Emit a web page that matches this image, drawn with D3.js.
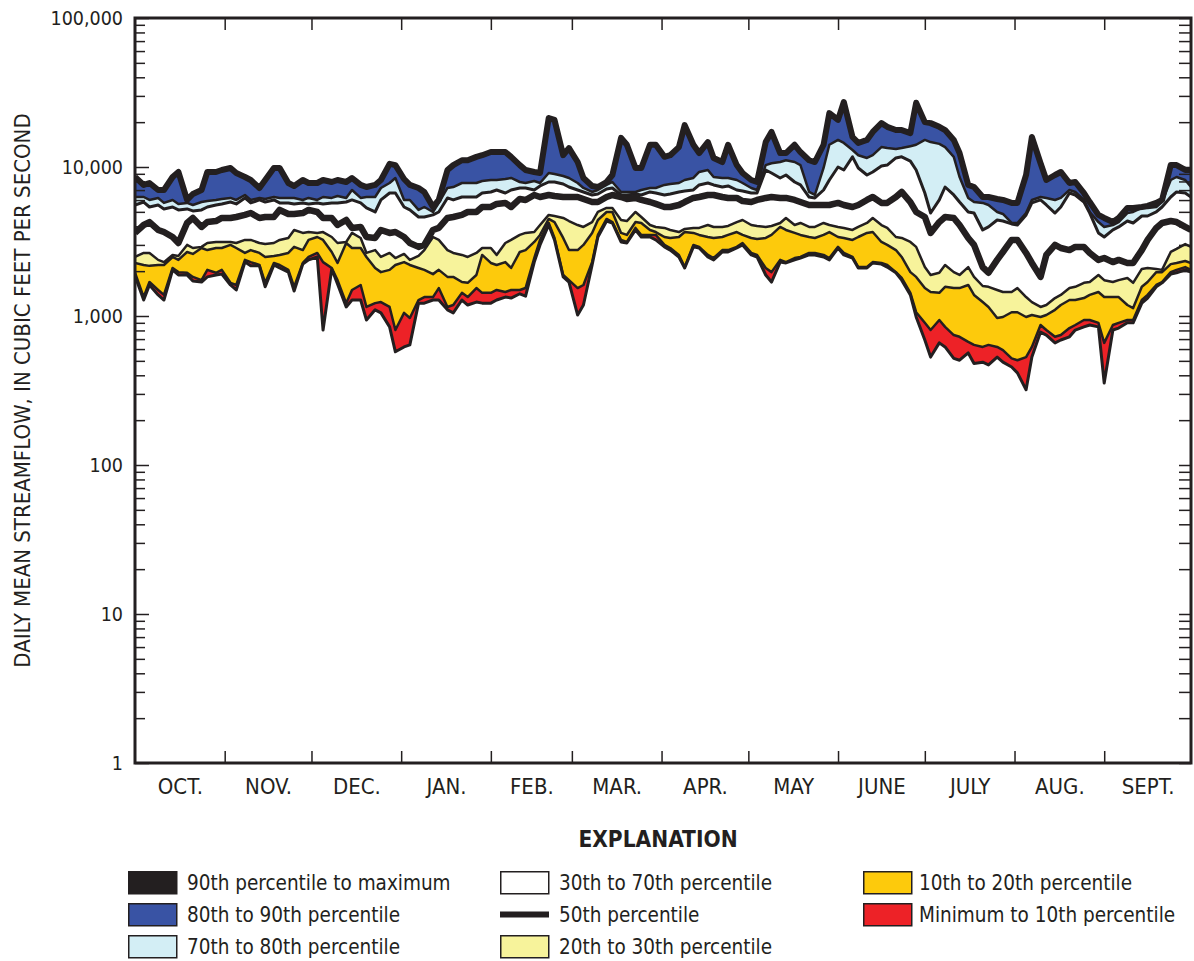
<!DOCTYPE html>
<html>
<head>
<meta charset="utf-8">
<script src="https://cdn.jsdelivr.net/npm/d3@7"></script>
<style>
    body { margin: 0; background: #fff; }
    svg text {
        font-family: "Liberation Sans Narrow", "DejaVu Sans Condensed", "Roboto Condensed", sans-serif;
        fill: #231f20;
    }
    .tick line { stroke: #231f20; stroke-width: 1.5; }
    .y-label text { font-size: 19.5px; }
    .month-label text { font-size: 22px; }
    .legend-text { font-size: 20.5px; }
</style>
</head>
<body>
<div id="chart"></div>
<script>
'use strict';

// day of the water year (0 = Oct. 1)
const days = [0,3,5,8,10,13,15,18,20,23,25,28,30,33,35,38,40,43,45,48,50,53,55,58,60,63,65,68,70,73,75,78,80,83,85,88,90,93,95,98,100,103,105,108,110,113,115,118,120,123,125,128,130,133,135,138,140,143,145,148,150,153,155,158,160,163,165,168,170,173,175,178,180,183,185,188,190,193,195,198,200,203,205,208,210,213,215,218,220,223,225,228,230,233,235,238,240,243,245,248,250,253,255,258,260,263,265,268,270,273,275,278,280,283,285,288,290,293,295,298,300,303,305,308,310,313,315,318,320,323,325,328,330,333,335,338,340,343,345,348,350,353,355,358,360,363,365];

// daily mean streamflow percentiles, cubic feet per second
const p90 = [8570,7580,7810,7010,7010,8570,9260,6010,6590,7010,9260,9260,9550,9850,9110,8570,8180,7230,8180,9850,9850,7810,7460,8180,7810,7810,8180,7930,8180,7930,8440,7580,7340,7580,8180,10500,10300,8310,7580,7230,6800,5390,6010,9550,10300,11100,11100,11700,12000,12600,12600,12600,11700,10300,9550,9260,9110,21300,20700,12000,13400,10800,8440,7460,7340,7930,8840,15700,14100,9850,9850,14100,14100,11700,12000,13600,19100,14100,12400,14700,11500,10800,14100,10300,9110,8180,7930,14700,17200,12400,12400,14100,12600,11100,10800,14100,23000,20700,27300,15900,14500,15200,17200,19700,18600,17700,17700,16900,27000,20000,19700,18600,17700,15200,12400,7580,7340,6290,6290,6100,6010,5740,5740,8840,15900,10600,8180,8840,9260,7810,7930,6690,5820,4770,4550,4270,4550,5310,5310,5390,5480,5740,6010,10300,10300,9550,9550];
const p80 = [6290,6290,6010,6200,5740,6010,5650,5740,5560,5820,5910,6010,6100,6200,6010,6490,6010,6200,6100,6290,6200,6200,6200,6010,6200,6010,6290,6200,6390,6200,7010,6200,6290,6290,7230,7810,8440,6010,6010,5150,5390,4990,5740,7230,7340,7810,7810,7810,8050,8180,8180,8310,8440,7930,7810,8050,7810,9110,8980,8700,8440,7810,7230,6800,7010,7580,7930,6800,6800,6800,7010,7230,7230,7580,7690,7810,8180,8440,9260,9550,8570,8440,8440,8180,7810,7230,7010,10300,10600,10800,11100,10800,10300,6800,6490,9850,14100,15200,14500,13000,12000,11500,12000,13600,13400,13200,13400,13800,14100,15200,14700,14300,13600,11700,8570,6200,5820,5740,5560,4990,4840,4210,4210,4910,6010,6290,6200,6010,6200,7010,6800,6010,4990,4270,3960,4080,4270,4910,4990,5310,5310,5390,5820,8180,8570,8180,7340];
const p70 = [5560,5820,5390,5560,5230,5390,5150,5230,5070,5150,5390,5560,5650,5820,5650,6200,5740,6010,5820,6010,5740,5740,5650,5740,5650,5740,5650,5740,5740,5820,6010,5740,5310,4990,6010,6690,6690,5390,5150,4620,4620,4770,4990,6200,6010,6290,6290,6290,6690,6800,7010,6690,7010,7230,7230,7010,7460,7930,7930,7690,7340,7010,6800,6490,6590,7120,7230,6490,6490,6590,6490,6800,6690,6490,6590,6800,6900,7010,7580,7810,7580,7340,7460,7010,6900,6690,6690,9550,9110,8440,8840,7930,7580,6290,6200,7010,8180,10000,9550,11700,9850,8840,9260,10150,10300,11500,11700,10950,9550,6690,4910,6010,7340,6490,5820,4990,4910,3780,3960,4410,4340,4150,4080,4770,5740,6010,5560,4910,5390,6690,6490,5820,4910,3610,3390,3780,3960,4340,4210,4690,4690,4990,5390,6290,6800,6690,6290];
const p50 = [3610,4080,4270,3780,3660,3390,3090,4210,4550,3960,4270,4340,4550,4550,4620,4770,4910,4550,4620,4620,5150,4840,4840,4910,5150,4990,4550,4550,4080,4410,3900,3960,3390,3340,3780,3610,3660,3390,3090,2910,3000,3780,3900,4550,4620,4770,4990,4990,5390,5390,5650,5740,5390,6100,6010,6490,6290,6490,6390,6290,6290,6290,6100,5820,5820,6290,6490,6290,6100,6200,6010,5820,5650,5390,5390,5560,5820,6200,6290,6490,6490,6290,6200,6200,5910,5820,6010,6200,6290,6200,6200,6010,5820,5560,5560,5560,5560,5740,5560,5390,5560,6010,6290,5740,5740,6290,6800,5820,4990,4620,3610,4270,4620,4550,4080,3340,3000,2130,1950,2380,2690,3240,3240,2650,2270,1830,2570,3000,2860,2770,2910,2910,2650,2380,2450,2300,2380,2270,2270,2770,3240,3900,4210,4340,4270,3960,3780];
const p30 = [2490,2650,2650,2380,2300,2570,2530,3000,2860,2910,3090,3140,3140,3140,3090,3240,3240,3090,3040,3090,3240,3340,3780,3610,3660,3610,3660,3390,3090,3140,3610,3340,2650,2770,2490,2650,2450,2610,2380,2530,2770,3390,3240,2770,2650,2570,2490,2650,2860,2860,2570,3090,3240,3500,3610,3660,4080,4770,4690,4550,4340,4080,3960,4270,4990,5310,5310,4410,4340,4990,4620,4080,3960,3900,3780,3660,3840,3900,3900,4080,3960,3960,4020,4270,4410,4080,4020,3960,4020,4210,4550,4080,4210,3960,3960,4210,4080,3960,3900,3780,3960,4210,4550,4080,3900,3390,3340,3140,2910,2130,1885,1950,2200,1970,1885,2130,1830,1590,1570,1495,1450,1450,1540,1340,1240,1150,1185,1320,1385,1540,1570,1670,1690,1885,1740,1690,1740,1800,1670,2070,2100,2070,2040,2690,2820,3040,2910];
const p20 = [2270,2200,2170,2200,2200,2490,2380,2690,2610,2860,2770,2860,2860,3000,2860,2650,2770,2650,2490,2530,2570,2650,2910,2770,3240,3390,3240,2690,2270,3090,2860,2860,2490,2100,1970,2040,2200,2300,2200,2100,2040,1910,2040,1830,1830,1690,1670,1885,2570,2270,2200,2300,2100,2690,2770,3140,3500,4480,4270,3340,2770,2770,3000,3610,4410,4990,4990,3610,3500,4270,4210,3780,3660,3390,3340,3390,3660,3610,3500,3390,3340,3390,3500,3660,3500,3340,3290,3340,3500,3960,3780,3610,3500,3390,3340,3500,3660,3390,3340,3240,3390,3610,3660,3140,3000,2770,2490,1970,1830,1540,1450,1430,1570,1540,1540,1615,1385,1240,1150,970,985,1060,1060,985,1015,985,1015,1100,1185,1280,1280,1320,1385,1450,1340,1340,1340,1185,1130,1570,1690,1970,1970,2230,2270,2340,2270];
const p10 = [1950,1340,1690,1495,1385,2100,1970,1950,1830,1740,2040,1950,2040,1670,1615,2380,2300,2200,1670,2270,2200,2040,1570,2270,2490,2650,2300,2100,1740,1220,1495,1615,1150,1220,1240,1150,805,1050,970,1280,1340,1340,1540,1150,1185,1430,1340,1540,1430,1430,1495,1450,1495,1495,1540,2450,3240,4210,3340,1885,1740,1540,1615,2300,3500,4480,4270,3240,3140,3900,3500,3500,3500,3000,2860,2570,2130,3000,2910,2570,2450,2770,2770,2910,3090,2650,2570,2100,1970,2380,2300,2450,2490,2650,2650,2570,2450,2910,2650,2490,2130,2130,2300,2270,2200,1970,1800,1430,1060,900,805,940,845,745,725,670,640,620,640,620,591,520,505,530,620,870,805,725,745,830,870,940,940,900,660,870,900,940,940,1280,1385,1615,1690,1970,2040,2130,2040];
const pMin = [1860,1280,1615,1385,1280,2040,1885,1885,1720,1690,1830,1885,1910,1615,1495,2300,2170,2170,1570,2200,2100,1970,1470,2230,2380,2490,805,2070,1640,1150,1280,1280,940,1100,1050,845,575,620,640,1220,1220,1280,1280,1100,1050,1280,1185,1240,1220,1220,1280,1340,1320,1410,1360,2300,3000,4080,3240,1830,1690,1015,1185,2200,3390,4340,4210,3140,3090,3780,3390,3390,3240,2910,2770,2490,2100,2910,2860,2490,2380,2690,2690,2860,3000,2570,2490,1885,1690,2300,2270,2380,2450,2570,2570,2490,2380,2860,2570,2450,2100,2100,2270,2230,2130,1950,1740,1385,985,690,530,660,620,520,505,565,480,490,470,530,490,455,415,320,530,780,745,660,690,725,805,845,870,845,355,805,830,900,900,1220,1320,1570,1670,1910,1950,2040,1970];

const monthNames = ['OCT.','NOV.','DEC.','JAN.','FEB.','MAR.','APR.','MAY','JUNE','JULY','AUG.','SEPT.'];
const monthStarts = [0,31,61,92,123,151,182,212,243,273,304,335,365];
const yTicks = [1,10,100,1000,10000,100000];

const legendLabels = [
    '90th percentile to maximum', '80th to 90th percentile', '70th to 80th percentile',
    '30th to 70th percentile', '50th percentile', '20th to 30th percentile',
    '10th to 20th percentile', 'Minimum to 10th percentile'
];

const colors = {
    black: '#231f20',
    blue: '#3953a4',
    lightBlue: '#d3eef5',
    white: '#ffffff',
    paleYellow: '#f7f39b',
    yellow: '#fdca0c',
    red: '#ed2227'
};

const W = 1194, H = 961;
const plot = {left: 135, right: 1191, top: 18, bottom: 763};

const svg = d3.select('#chart').append('svg')
    .attr('width', W)
    .attr('height', H);

const x = d3.scaleLinear().domain([0, 365]).range([plot.left, plot.right]);
const y = d3.scaleLog().domain([1, 100000]).range([plot.bottom, plot.top]);

const rows = days.map((d, i) => ({
    day: d, min: pMin[i], p10: p10[i], p20: p20[i], p30: p30[i],
    p50: p50[i], p70: p70[i], p80: p80[i], p90: p90[i]
}));

svg.append('clipPath').attr('id', 'plot-clip')
    .append('rect')
    .attr('x', plot.left).attr('y', plot.top)
    .attr('width', plot.right - plot.left)
    .attr('height', plot.bottom - plot.top);

const g = svg.append('g').attr('clip-path', 'url(#plot-clip)');

// shaded percentile bands, bottom to top
const bands = [
    {lo: 'min', hi: 'p10', fill: colors.red},
    {lo: 'p10', hi: 'p20', fill: colors.yellow},
    {lo: 'p20', hi: 'p30', fill: colors.paleYellow},
    {lo: 'p70', hi: 'p80', fill: colors.lightBlue},
    {lo: 'p80', hi: 'p90', fill: colors.blue}
];

bands.forEach(b => {
    const area = d3.area()
        .x(d => x(d.day))
        .y0(d => y(d[b.lo]))
        .y1(d => y(d[b.hi]));
    g.append('path')
        .datum(rows)
        .attr('fill', b.fill)
        .attr('d', area);
});

// percentile boundary lines (the 90th-to-maximum band is the heavy top line)
const lines = [
    {key: 'min', w: 3},
    {key: 'p10', w: 2.5},
    {key: 'p20', w: 2.5},
    {key: 'p30', w: 2.5},
    {key: 'p70', w: 3},
    {key: 'p80', w: 2.5},
    {key: 'p50', w: 6.5},
    {key: 'p90', w: 6}
];

lines.forEach(l => {
    const line = d3.line()
        .x(d => x(d.day))
        .y(d => y(d[l.key]));
    g.append('path')
        .datum(rows)
        .attr('fill', 'none')
        .attr('stroke', colors.black)
        .attr('stroke-width', l.w)
        .attr('stroke-linejoin', 'round')
        .attr('d', line);
});

// axes
const minorTicks = [];
yTicks.slice(0, -1).forEach(t => {
    for (let k = 2; k <= 9; k++) minorTicks.push(t * k);
});

function noDomain(sel){ sel.select('.domain').remove(); }

svg.append('g')
    .attr('transform', 'translate(' + plot.left + ',0)')
    .call(d3.axisLeft(y).tickValues(minorTicks).tickSize(-10).tickFormat(''))
    .call(noDomain);

svg.append('g')
    .attr('class', 'y-label')
    .attr('transform', 'translate(' + plot.left + ',0)')
    .call(d3.axisLeft(y).tickValues(yTicks).tickSize(-14).tickPadding(12).tickFormat(d3.format(',')))
    .call(noDomain);

svg.append('g')
    .attr('transform', 'translate(' + plot.right + ',0)')
    .call(d3.axisRight(y).tickValues(minorTicks.concat(yTicks)).tickSize(-12).tickFormat(''))
    .call(noDomain);

const monthBounds = monthStarts.slice(1, -1);

svg.append('g')
    .attr('transform', 'translate(0,' + plot.bottom + ')')
    .call(d3.axisBottom(x).tickValues(monthBounds).tickSize(-12).tickFormat(''))
    .call(noDomain);

svg.append('g')
    .attr('transform', 'translate(0,' + plot.top + ')')
    .call(d3.axisTop(x).tickValues(monthBounds).tickSize(-12).tickFormat(''))
    .call(noDomain);

const monthMid = monthNames.map((m, i) => (monthStarts[i] + monthStarts[i + 1]) / 2);

svg.append('g')
    .attr('class', 'month-label')
    .attr('transform', 'translate(0,' + plot.bottom + ')')
    .call(d3.axisBottom(x).tickValues(monthMid).tickSize(0).tickPadding(15)
        .tickFormat((d, i) => monthNames[i]))
    .call(noDomain);

// frame
svg.append('rect')
    .attr('x', plot.left).attr('y', plot.top)
    .attr('width', plot.right - plot.left)
    .attr('height', plot.bottom - plot.top)
    .attr('fill', 'none')
    .attr('stroke', colors.black)
    .attr('stroke-width', 3);

svg.append('text')
    .attr('transform', 'translate(30,' + ((plot.top + plot.bottom) / 2) + ') rotate(-90)')
    .attr('text-anchor', 'middle')
    .style('font-size', '22px')
    .text('DAILY MEAN STREAMFLOW, IN CUBIC FEET PER SECOND');

// explanation
svg.append('text')
    .attr('x', 658).attr('y', 847)
    .attr('text-anchor', 'middle')
    .style('font-size', '22.5px')
    .style('font-weight', 'bold')
    .text('EXPLANATION');

const legendFills = [colors.black, colors.blue, colors.lightBlue, colors.white, null, colors.paleYellow, colors.yellow, colors.red];
const colX = [128, 500, 863];
const rowY = [871, 903, 935];

const legend = svg.append('g');
legendLabels.forEach((label, i) => {
    const cx = colX[Math.floor(i / 3)];
    const ry = rowY[i % 3];
    const item = legend.append('g').attr('transform', 'translate(' + cx + ',' + ry + ')');
    if (legendFills[i] === null) {
        item.append('line')
            .attr('x1', 0).attr('x2', 49)
            .attr('y1', 11.5).attr('y2', 11.5)
            .attr('stroke', colors.black)
            .attr('stroke-width', 6);
    } else {
        item.append('rect')
            .attr('x', 0.75).attr('y', 0.75)
            .attr('width', 48).attr('height', 22)
            .attr('fill', legendFills[i])
            .attr('stroke', colors.black)
            .attr('stroke-width', 1.5);
    }
    item.append('text')
        .attr('class', 'legend-text')
        .attr('x', i < 6 ? 59 : 56)
        .attr('y', 11.5)
        .attr('dy', '0.36em')
        .text(label);
});
</script>
</body>
</html>
